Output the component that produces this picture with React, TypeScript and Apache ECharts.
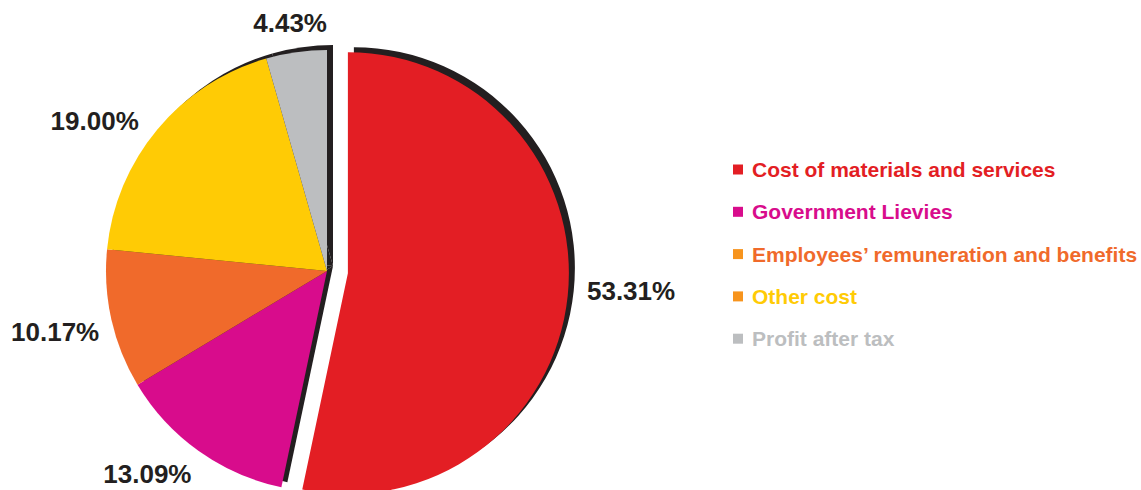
import React, { useEffect, useRef } from "react";
import * as echarts from "echarts";

const categories = [
  "Cost of materials and services",
  "Government Lievies",
  "Employees’ remuneration and benefits",
  "Other cost",
  "Profit after tax",
];
const shares = [53.31, 13.09, 10.17, 19.0, 4.43];
const sliceColors = ["#e31e24", "#d80c8c", "#f06a2b", "#ffcb05", "#bcbec0"];
const legendIconColors = ["#e31e24", "#d80c8c", "#f7941d", "#f7941d", "#bcbec0"];

const CX = 327;
const CY = 271;
const R = 221;
const EXPLODE = 21;
const EXPLODED_INDEX = 0;
const SHADOW_DX = 6;
const SHADOW_DY = -5;
const labelGap = [18, 12, 12, 12, 12];
const labelAngleNudge = [-2.3, 6, 0, -7, -0.5];
const FONT = "'Liberation Sans', Arial, Helvetica, sans-serif";

export default function App() {
  const ref = useRef<HTMLDivElement>(null);
  useEffect(() => {
    if (!ref.current) return;
    const chart = echarts.init(ref.current, null, { renderer: "svg" });
    const total = shares.reduce((a, b) => a + b, 0);
    const mids: number[] = [];
    let acc = 0;
    shares.forEach((v) => {
      mids.push(((acc + v / 2) / total) * 360);
      acc += v;
    });

    const labelLayout = (params: any) => {
      const i = params.dataIndex;
      const mid = mids[i];
      const m = (mid * Math.PI) / 180;
      let cx = CX;
      let cy = CY;
      if (i === EXPLODED_INDEX) {
        cx += EXPLODE * Math.sin(m);
        cy -= EXPLODE * Math.cos(m);
      }
      const a = ((mid + labelAngleNudge[i]) * Math.PI) / 180;
      const dx = Math.sin(a);
      const dy = -Math.cos(a);
      const w = params.labelRect.width;
      const h = 24;
      const ext = (w / 2) * Math.abs(dx) + (h / 2) * Math.abs(dy);
      const rr = R + labelGap[i] + ext;
      return {
        x: cx + rr * dx,
        y: cy + rr * dy,
        align: "center",
        verticalAlign: "middle",
      };
    };

    const labelBase = {
      position: "outside",
      overflow: "none",
      alignTo: "none",
      formatter: (p: any) => p.value.toFixed(2) + "%",
      color: "#231f20",
      fontFamily: FONT,
      fontSize: 26,
      fontWeight: "bold",
    };

    chart.setOption({
      animation: false,
      legend: {
        orient: "vertical",
        left: 733,
        top: 159,
        padding: 0,
        itemWidth: 10,
        itemHeight: 10,
        itemGap: 21.3,
        selectedMode: false,
        icon: "rect",
        textStyle: {
          fontFamily: FONT,
          fontSize: 21,
          fontWeight: "bold",
          lineHeight: 21,
          padding: [0, 0, 0, 4],
        },
        data: categories.map((c, i) => ({
          name: c,
          itemStyle: { color: legendIconColors[i] },
          textStyle: { color: sliceColors[i] },
        })),
      },
      series: [
        {
          type: "pie",
          silent: true,
          center: [CX + SHADOW_DX, CY + SHADOW_DY],
          radius: R,
          startAngle: 90,
          clockwise: true,
          selectedMode: "single",
          selectedOffset: EXPLODE,
          label: { show: false },
          labelLine: { show: false },
          itemStyle: { color: "#231f20", borderWidth: 0 },
          data: shares.map((v, i) => ({
            name: "shadow-" + i,
            value: v,
            selected: i === EXPLODED_INDEX,
          })),
        },
        {
          type: "pie",
          silent: true,
          center: [CX, CY],
          radius: R,
          startAngle: 90,
          clockwise: true,
          selectedMode: "single",
          selectedOffset: EXPLODE,
          itemStyle: { borderWidth: 0 },
          label: { show: true, ...labelBase },
          labelLine: { show: false },
          labelLayout,
          data: shares.map((v, i) => ({
            name: categories[i],
            value: v,
            selected: i === EXPLODED_INDEX,
            itemStyle: { color: sliceColors[i] },
            label: { show: i !== EXPLODED_INDEX },
          })),
        },
        {
          // label carrier for the exploded slice (selected labels ignore labelLayout)
          type: "pie",
          silent: true,
          center: [CX, CY],
          radius: R,
          startAngle: 90,
          clockwise: true,
          selectedMode: false,
          itemStyle: { color: "rgba(0,0,0,0)", borderWidth: 0 },
          label: { show: false, ...labelBase },
          labelLine: { show: false },
          labelLayout,
          data: shares.map((v, i) => ({
            name: "label-" + i,
            value: v,
            label: { show: i === EXPLODED_INDEX },
          })),
        },
      ],
    });
    return () => chart.dispose();
  }, []);
  return (
    <div
      ref={ref}
      style={{ position: "fixed", left: 0, top: 0, width: 1141, height: 490, background: "#fff" }}
    />
  );
}
